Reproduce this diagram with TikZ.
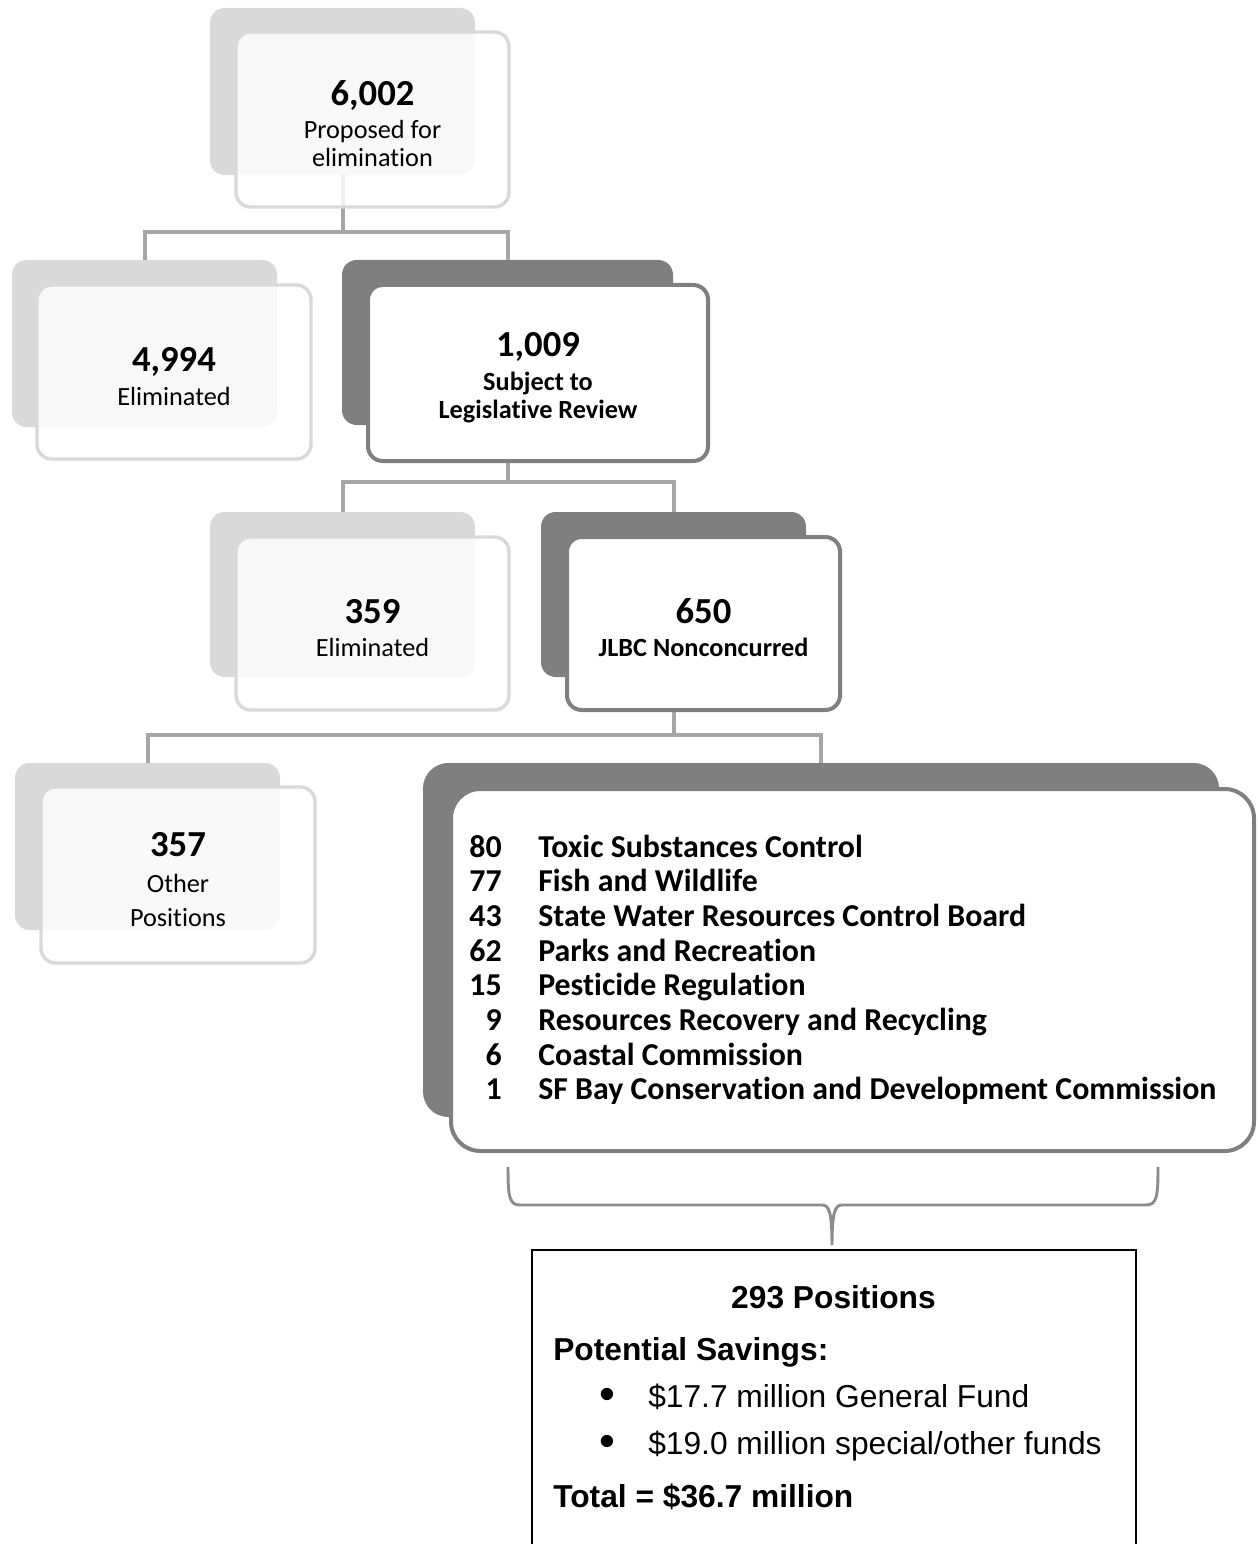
\documentclass[tikz,border=0pt]{standalone}
\usepackage{fontspec}
\setmainfont{Carlito}[Ligatures=NoCommon]
\newfontfamily\arialfont{Liberation Sans}
\definecolor{boxlight}{HTML}{D9D9D9}
\definecolor{boxdark}{HTML}{7F7F7F}
\definecolor{linkgray}{HTML}{A6A6A6}
\definecolor{bracegray}{HTML}{8C8C8C}
\newcommand{\bignum}[1]{{\fontsize{27.5}{30}\selectfont\bfseries\rule{0pt}{25pt}#1}}
\tikzset{
  boxsize/.style 2 args={minimum width=#1*0.75pt,minimum height=#2*0.75pt},
  lightback/.style={fill=boxlight,rounded corners=11pt,inner sep=0pt,outer sep=0pt},
  darkback/.style={fill=boxdark,rounded corners=11pt,inner sep=0pt,outer sep=0pt},
  lightfront/.style={draw=boxlight,line width=2.6pt,fill=white,fill opacity=0.82,text opacity=1,
    rounded corners=11pt,inner sep=0pt,outer sep=0pt,align=center,font=\fontsize{19.7}{21}\selectfont},
  darkfront/.style={draw=boxdark,line width=3pt,fill=white,
    rounded corners=11pt,inner sep=0pt,outer sep=0pt,align=center,font=\fontsize{19.7}{21}\selectfont},
  link/.style={draw=linkgray,line width=3pt},
  listtext/.style={inner sep=0pt,font=\fontsize{23.9}{28}\selectfont\bfseries},
  savetext/.style={inner sep=0pt,font=\arialfont\fontsize{23.8}{28}\selectfont}
}
\begin{document}
\begin{tikzpicture}[x=0.75pt,y=-0.75pt]
\useasboundingbox (0,0) rectangle (1257,1544);
\node[lightback,boxsize={265}{167}] (topb) at (342.5,91.5) {};
\node[lightback,boxsize={265}{167}] (elimab) at (144.5,343.5) {};
\node[darkback,boxsize={331}{165}] (reviewb) at (507.5,342.5) {};
\node[lightback,boxsize={265}{165}] (elimbb) at (342.5,594.5) {};
\node[darkback,boxsize={265}{165}] (nonconb) at (673.5,594.5) {};
\node[lightback,boxsize={265}{167}] (otherb) at (147.5,846.5) {};
\node[darkback,boxsize={796}{354},rounded corners=19pt] (deptb) at (821,940) {};

\coordinate (j1) at (topb.south |- 0,232);
\coordinate (j2) at (reviewb.south |- 0,482);
\coordinate (j3) at (nonconb.south |- 0,735);
\draw[link] (topb.south) -- (j1);
\draw[link] (elimab.north) |- (j1) -| (reviewb.north);
\draw[link] (reviewb.south) -- (j2);
\draw[link] (elimbb.north) |- (j2) -| (nonconb.north);
\draw[link] (nonconb.south) -- (j3);
\draw[link] (otherb.north) |- (j3) -| (deptb.north);

\node[lightfront,boxsize={273}{175}] (top) at (372.5,119.5) {\bignum{6,002}\\[4pt]Proposed for\\elimination};
\node[lightfront,boxsize={274}{174}] (elima) at (174,372) {\bignum{4,994}\\[4pt]Eliminated};
\node[darkfront,boxsize={340}{176}] (review) at (538,373) {\bignum{1,009}\\[4pt]\textbf{Subject to}\\\textbf{Legislative Review}};
\node[lightfront,boxsize={273}{173}] (elimb) at (372.5,623.5) {\bignum{359}\\[4pt]Eliminated};
\node[darkfront,boxsize={273}{173}] (noncon) at (703.5,623.5) {\bignum{650}\\[4pt]\textbf{JLBC Nonconcurred}};
\node[lightfront,boxsize={274}{176}] (other) at (178,875) {\bignum{357}\\[6pt]Other\\[4pt]Positions};
\node[darkfront,boxsize={803}{362},rounded corners=22pt] (dept) at (852.5,970) {};

\foreach \n/\d [count=\i from 0] in {80/Toxic Substances Control, 77/Fish and Wildlife,
    43/State Water Resources Control Board, 62/Parks and Recreation, 15/Pesticide Regulation,
    9/Resources Recovery and Recycling, 6/Coastal Commission,
    1/SF Bay Conservation and Development Commission}{
  \node[listtext,anchor=base east] (num\i) at (502,857+34.7*\i) {\n};
  \node[listtext,anchor=base west] (dep\i) at (538,857+34.7*\i) {\d};
}

\draw[bracegray,line width=2.2pt] (508,1167) .. controls (508,1196) and (509,1205) .. (520,1205)
  -- (822,1205) .. controls (829,1205) and (832,1212) .. (832,1245)
  .. controls (832,1212) and (835,1205) .. (842,1205)
  -- (1146,1205) .. controls (1157,1205) and (1158,1196) .. (1158,1167);

\node[draw=black,line width=1.5pt,inner sep=0pt,boxsize={604}{320}] (sav) at (834,1410) {};
\node[savetext,anchor=base] (posn) at (833.5,1308) {\bfseries 293 Positions};
\node[savetext,anchor=base west] (pot) at (553,1360) {\bfseries Potential Savings:};
\node[savetext,anchor=base,font=\arialfont\fontsize{34}{34}\selectfont] (bula) at (607,1409) {•};
\node[savetext,anchor=base west] (genf) at (648,1407) {\$17.7 million General Fund};
\node[savetext,anchor=base,font=\arialfont\fontsize{34}{34}\selectfont] (bulb) at (607,1456) {•};
\node[savetext,anchor=base west] (spec) at (648,1454) {\$19.0 million special/other funds};
\node[savetext,anchor=base west] (tot) at (553,1507) {\bfseries Total = \$36.7 million};
\end{tikzpicture}
\end{document}
